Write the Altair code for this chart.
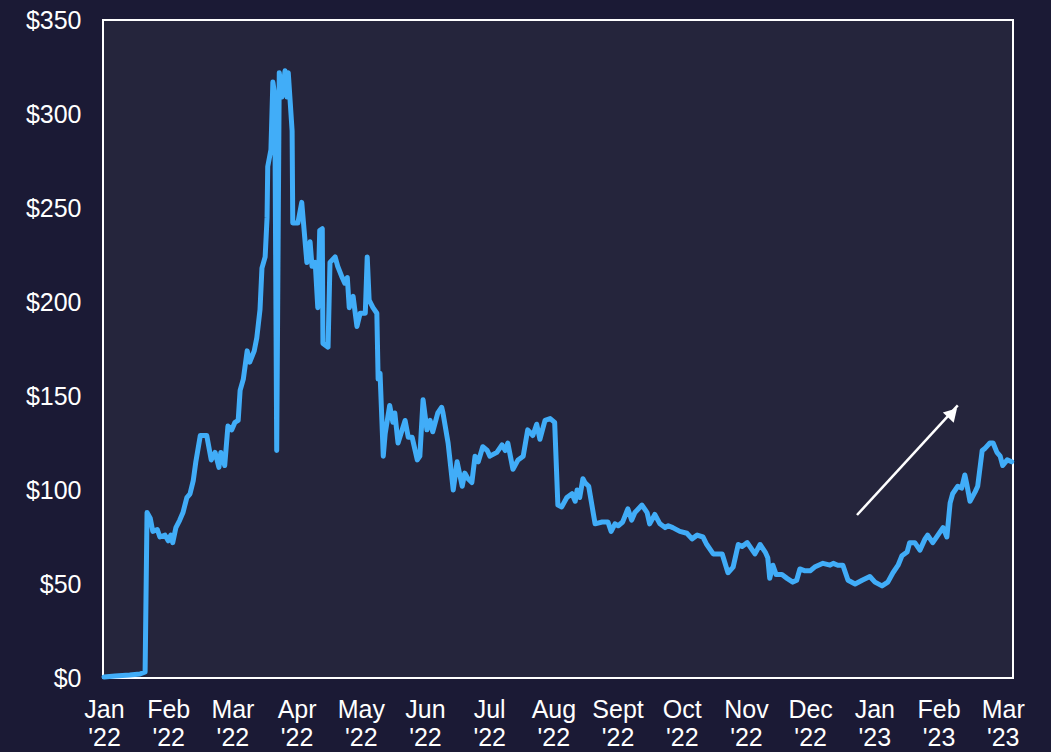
import json
import altair as alt
import pandas as pd

# x = months since Jan 2022 (fractional), value = price in $
t = [0.00, 0.17, 0.40, 0.56, 0.64, 0.67, 0.72, 0.76, 0.83, 0.87, 0.95, 1.00, 1.04, 1.07, 1.12,
     1.18, 1.23, 1.29, 1.34, 1.39, 1.43, 1.50, 1.60, 1.67, 1.73, 1.79, 1.82, 1.88, 1.93, 1.99,
     2.04, 2.09, 2.12, 2.17, 2.23, 2.27, 2.34, 2.38, 2.43, 2.46, 2.51, 2.54, 2.55, 2.60, 2.63,
     2.66, 2.69, 2.73, 2.77, 2.82, 2.85, 2.87, 2.93, 2.94, 3.02, 3.08, 3.16, 3.21, 3.24, 3.29,
     3.33, 3.36, 3.40, 3.41, 3.49, 3.52, 3.60, 3.64, 3.71, 3.75, 3.79, 3.82, 3.88, 3.94, 3.99,
     4.07, 4.10, 4.13, 4.19, 4.25, 4.27, 4.30, 4.35, 4.38, 4.45, 4.50, 4.53, 4.58, 4.69, 4.74,
     4.80, 4.88, 4.92, 4.97, 5.03, 5.08, 5.12, 5.20, 5.26, 5.28, 5.36, 5.44, 5.50, 5.58, 5.62,
     5.67, 5.73, 5.78, 5.83, 5.90, 5.97, 6.01, 6.12, 6.20, 6.25, 6.29, 6.37, 6.45, 6.53, 6.60,
     6.68, 6.74, 6.79, 6.87, 6.95, 7.02, 7.07, 7.13, 7.21, 7.29, 7.34, 7.37, 7.41, 7.46, 7.49,
     7.55, 7.65, 7.76, 7.85, 7.90, 7.96, 8.01, 8.08, 8.16, 8.22, 8.27, 8.38, 8.46, 8.50, 8.58,
     8.66, 8.74, 8.79, 8.86, 8.97, 9.08, 9.16, 9.24, 9.33, 9.39, 9.49, 9.63, 9.72, 9.80, 9.88,
     9.94, 10.02, 10.06, 10.14, 10.22, 10.30, 10.34, 10.37, 10.42, 10.47, 10.56, 10.64, 10.73,
     10.79, 10.84, 10.92, 11.00, 11.07, 11.20, 11.31, 11.36, 11.43, 11.51, 11.59, 11.70, 11.81,
     11.93, 12.01, 12.12, 12.21, 12.29, 12.37, 12.43, 12.51, 12.55, 12.63, 12.71, 12.79, 12.83,
     12.91, 12.99, 13.07, 13.13, 13.18, 13.22, 13.30, 13.36, 13.41, 13.44, 13.49, 13.57, 13.61,
     13.68, 13.72, 13.80, 13.85, 13.91, 13.96, 14.00, 14.07, 14.14]
price = [0.5, 1.1, 1.6, 2.1, 3.2, 88, 85, 78, 79, 75, 76, 73, 76, 72, 80,
         84, 88, 96, 98, 105, 115, 129, 129, 116, 120, 112, 120, 113, 134, 132,
         136, 137, 153, 159, 174, 168, 174, 181, 196, 218, 224, 245, 272, 281, 317,
         310, 121, 322, 309, 323, 309, 322, 291, 242, 242, 253, 221, 232, 219, 221,
         197, 238, 239, 178, 176, 221, 224, 219, 213, 210, 213, 197, 203, 187, 194,
         194, 224, 201, 197, 194, 159, 162, 118, 130, 145, 136, 141, 125, 137, 128,
         128, 116, 118, 148, 132, 137, 131, 141, 144, 141, 125, 100, 115, 102, 109,
         106, 104, 118, 115, 123, 121, 118, 120, 124, 121, 125, 111, 116, 118, 132,
         129, 135, 127, 137, 138, 136, 92, 91, 96, 98, 94, 100, 96, 106, 104,
         102, 82, 83, 83, 78, 82, 81, 83, 90, 84, 88, 92, 88, 82, 87,
         82, 80, 81, 80, 78, 77, 74, 76, 75, 71, 66, 66, 56, 59, 71,
         70, 72, 70, 66, 71, 67, 64, 53, 60, 55, 55, 53, 51,
         52, 58, 57, 57, 59, 61, 60, 61, 60, 60, 52, 50, 52,
         54, 51, 49, 51, 56, 60, 65, 67, 72, 72, 68, 74, 76,
         72, 76, 80, 75, 93, 98, 102, 101, 108, 103, 94, 99, 102,
         121, 122, 125, 125, 120, 118, 113, 116, 115]

months = ["Jan", "Feb", "Mar", "Apr", "May", "Jun", "Jul", "Aug", "Sept", "Oct", "Nov", "Dec",
          "Jan", "Feb", "Mar"]
years = ["'22"] * 12 + ["'23"] * 3
y_ticks = [0, 50, 100, 150, 200, 250, 300, 350]

arrow_t = [11.73, 13.30]
arrow_v = [86.7, 145.0]

df = pd.DataFrame({"t": t, "price": price})
lab = json.dumps([[m, y] for m, y in zip(months, years)])

FONT = "Liberation Sans"
xscale = alt.Scale(domain=[-0.016, 14.16], nice=False, zero=False)
yscale = alt.Scale(domain=[0, 350], nice=False)

xaxis = alt.Axis(values=list(range(len(months))), labelExpr=f"{lab}[datum.value]",
                 title=None, grid=False, ticks=False, domain=False,
                 labelColor="white", labelFont=FONT, labelFontSize=25,
                 labelLineHeight=28, labelPadding=19, labelFlush=False, labelOverlap=False)
yaxis = alt.Axis(values=y_ticks, labelExpr="'$' + datum.value", title=None, grid=False,
                 ticks=False, domain=False, labelColor="white", labelFont=FONT,
                 labelFontSize=25, labelPadding=22, labelFlush=False)

line = alt.Chart(df).mark_line(color="#41adf8", strokeWidth=5, strokeJoin="round",
                               strokeCap="round").encode(
    x=alt.X("t:Q", scale=xscale, axis=xaxis),
    y=alt.Y("price:Q", scale=yscale, axis=yaxis),
)

adf = pd.DataFrame({"t": [arrow_t[0]], "v": [arrow_v[0]], "t2": [arrow_t[1]], "v2": [arrow_v[1]]})
arrow = alt.Chart(adf).mark_rule(color="white", strokeWidth=2.5).encode(
    x=alt.X("t:Q", scale=xscale), y=alt.Y("v:Q", scale=yscale), x2="t2:Q", y2="v2:Q")

hdf = pd.DataFrame({"t": [arrow_t[1] - 0.08], "v": [arrow_v[1] - 4.0]})
head = alt.Chart(hdf).mark_point(shape="triangle-up", filled=True, color="white", opacity=1,
                                 size=220, angle=43).encode(
    x=alt.X("t:Q", scale=xscale), y=alt.Y("v:Q", scale=yscale))

chart = alt.layer(line, arrow, head).properties(
    width=910, height=658, background="#1b1a35",
    padding={"left": 103, "top": 20, "right": 38, "bottom": 74},
    autosize=alt.AutoSizeParams(type="none"),
).configure_view(fill="#25253c", stroke="white", strokeWidth=2)

chart.save("out.html", embed_options={"renderer": "svg", "actions": False})
